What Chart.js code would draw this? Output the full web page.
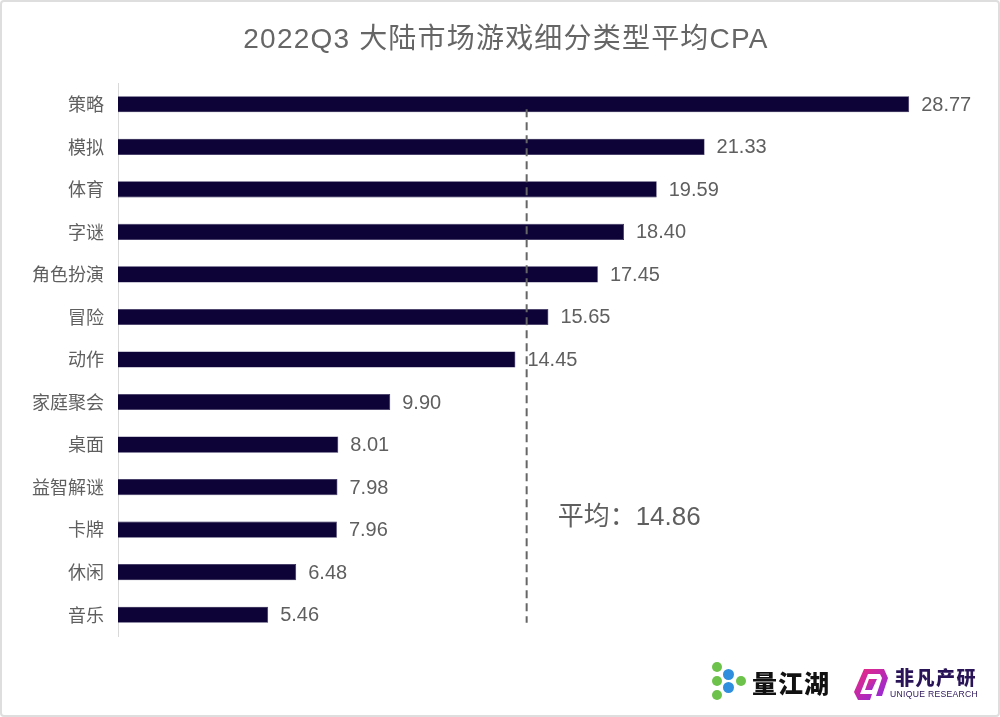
<!DOCTYPE html>
<html>
<head>
<meta charset="utf-8">
<script src="https://cdn.jsdelivr.net/npm/chart.js@4"></script>
<style>
    html, body { margin: 0; padding: 0; background: #fff; }
    .frame {
        position: relative;
        width: 1000px;
        height: 717px;
        box-sizing: border-box;
        border: 2px solid #dedede;
        border-radius: 4px;
        overflow: hidden;
    }
    #chart { position: absolute; left: -2px; top: -2px; }
    .logo { position: absolute; font-family: 'Noto Sans CJK SC', sans-serif; white-space: nowrap; }
    .dot { position: absolute; border-radius: 50%; }
</style>
</head>
<body>
<div class="frame">
    <canvas id="chart" width="1000" height="717"></canvas>

    <!-- 量江湖 logo -->
    <div class="logo" style="left:708px; top:658px; width:40px; height:44px;">
        <div class="dot" style="left:2px; top:2px; width:10px; height:10px; background:#6cc24a;"></div>
        <div class="dot" style="left:2px; top:16px; width:10px; height:10px; background:#6cc24a;"></div>
        <div class="dot" style="left:2px; top:30px; width:10px; height:10px; background:#6cc24a;"></div>
        <div class="dot" style="left:13px; top:9px; width:11px; height:11px; background:#2f8fde;"></div>
        <div class="dot" style="left:13px; top:22px; width:11px; height:11px; background:#2f8fde;"></div>
        <div class="dot" style="left:26px; top:16px; width:10px; height:10px; background:#6cc24a;"></div>
    </div>
    <div class="logo" style="left:750px; top:662px; font-size:25px; font-weight:900; color:#111; letter-spacing:1px;">量江湖</div>

    <!-- 非凡产研 logo -->
    <svg class="logo" style="left:850px; top:664px;" width="38" height="38" viewBox="0 0 38 38">
        <defs>
            <linearGradient id="g" x1="0" y1="0" x2="1" y2="1">
                <stop offset="0" stop-color="#f0287a"/>
                <stop offset="1" stop-color="#8a2be2"/>
            </linearGradient>
        </defs>
        <path d="M12 3 L32 3 L36 12 L30 30 L24 30 L30 12 L28 8 L16 8 L8 28 L20 28 L18 34 L6 34 L2 26 Z" fill="url(#g)"/>
        <path d="M17 13 L25 13 L20 24 L13 24 Z" fill="url(#g)"/>
    </svg>
    <div class="logo" style="left:893px; top:661px; font-size:19px; font-weight:900; color:#2a1458; letter-spacing:1.5px;">非凡产研</div>
    <div class="logo" style="left:888px; top:687px; font-size:8.6px; font-family:'Liberation Sans', sans-serif; color:#2a1458; letter-spacing:0.3px;">UNIQUE RESEARCH</div>
</div>

<script>
// 2022Q3 大陆市场游戏细分类型平均CPA
const categories = ['策略', '模拟', '体育', '字谜', '角色扮演', '冒险', '动作', '家庭聚会', '桌面', '益智解谜', '卡牌', '休闲', '音乐'];
const cpaValues = [28.77, 21.33, 19.59, 18.40, 17.45, 15.65, 14.45, 9.90, 8.01, 7.98, 7.96, 6.48, 5.46];
const averageCpa = 14.86;
const chartTitle = '2022Q3 大陆市场游戏细分类型平均CPA';

const textColor = '#5f5f5f';
const numFont = "'Liberation Sans', 'Noto Sans CJK SC', sans-serif";
const cjkFont = "'Noto Sans CJK SC', sans-serif";

// title drawn on the canvas, above the plot area
const titlePlugin = {
    id: 'titleText',
    afterDraw(chart) {
        const ctx = chart.ctx;
        ctx.save();
        ctx.fillStyle = '#666';
        ctx.font = '28px ' + numFont;
        ctx.letterSpacing = '1.2px';
        ctx.textAlign = 'center';
        ctx.textBaseline = 'middle';
        ctx.fillText(chartTitle, 506, 40);
        ctx.restore();
    }
};

// value labels to the right of each bar
const valueLabels = {
    id: 'valueLabels',
    afterDatasetsDraw(chart) {
        const ctx = chart.ctx;
        const meta = chart.getDatasetMeta(0);
        ctx.save();
        ctx.fillStyle = textColor;
        ctx.font = '20px ' + numFont;
        ctx.textAlign = 'left';
        ctx.textBaseline = 'middle';
        meta.data.forEach((bar, i) => {
            ctx.fillText(cpaValues[i].toFixed(2), bar.x + 12, bar.y + 1);
        });
        ctx.restore();
    }
};

// dashed average line + its label
const averageLine = {
    id: 'averageLine',
    afterDatasetsDraw(chart) {
        const ctx = chart.ctx;
        const x = chart.scales.x.getPixelForValue(averageCpa);
        const yScale = chart.scales.y;
        const top = yScale.getPixelForValue(0) + 5;
        const bottom = yScale.getPixelForValue(categories.length - 1) + 8;
        ctx.save();
        ctx.strokeStyle = '#666';
        ctx.lineWidth = 2;
        ctx.setLineDash([8, 5]);
        ctx.beginPath();
        ctx.moveTo(x, top);
        ctx.lineTo(x, bottom);
        ctx.stroke();
        ctx.setLineDash([]);
        ctx.fillStyle = textColor;
        ctx.font = '26px ' + numFont;
        ctx.textBaseline = 'middle';
        ctx.fillText('平均：' + averageCpa.toFixed(2), x + 31, yScale.getPixelForValue(10) - 12);
        ctx.restore();
    }
};

new Chart(document.getElementById('chart'), {
    type: 'bar',
    data: {
        labels: categories,
        datasets: [{
            data: cpaValues,
            backgroundColor: '#0e0336',
            borderColor: '#2a2152',
            borderWidth: 0.6,
            barPercentage: 0.38,
            categoryPercentage: 1
        }]
    },
    options: {
        indexAxis: 'y',
        responsive: false,
        animation: false,
        layout: {
            padding: { top: 83, right: 57, bottom: 81, left: 0 }
        },
        plugins: {
            legend: { display: false },
            tooltip: { enabled: false }
        },
        scales: {
            x: {
                display: false,
                min: 0,
                max: 30
            },
            y: {
                afterFit(scale) { scale.width = 118; },
                grid: { display: false, drawTicks: false },
                border: { display: true, color: '#d9d9d9', width: 1 },
                ticks: {
                    color: textColor,
                    font: { family: cjkFont, size: 18 },
                    padding: 14
                }
            }
        }
    },
    plugins: [titlePlugin, valueLabels, averageLine]
});
</script>
</body>
</html>
